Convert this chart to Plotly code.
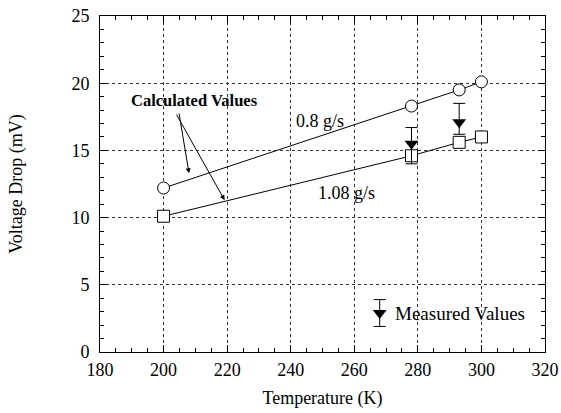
import plotly.graph_objects as go

# Data
temps = [200, 278, 293, 300]
calc_08 = [12.2, 18.3, 19.5, 20.1]
calc_108 = [10.1, 14.6, 15.6, 16.0]
meas_temps = [278, 293]
meas_vals = [15.5, 17.1]
meas_err_plus = [1.2, 1.4]
meas_err_minus = [1.5, 0.9]

FONT = "Liberation Serif"
FS = 18

fig = go.Figure()

fig.add_trace(go.Scatter(
    x=temps, y=calc_08, mode="lines+markers",
    line=dict(color="black", width=1),
    marker=dict(symbol="circle", size=12, color="white", line=dict(color="black", width=1)),
    showlegend=False))
fig.add_trace(go.Scatter(
    x=temps, y=calc_108, mode="lines+markers",
    line=dict(color="black", width=1),
    marker=dict(symbol="square", size=12, color="white", line=dict(color="black", width=1)),
    showlegend=False))
fig.add_trace(go.Scatter(
    x=meas_temps, y=meas_vals, mode="markers",
    marker=dict(symbol="triangle-down", size=12, color="black"),
    error_y=dict(type="data", symmetric=False, array=meas_err_plus, arrayminus=meas_err_minus,
                 color="black", thickness=1, width=6),
    showlegend=False))

# legend symbol
fig.add_trace(go.Scatter(
    x=[268], y=[2.9], mode="markers",
    marker=dict(symbol="triangle-down", size=12, color="black"),
    error_y=dict(type="data", array=[1.0], color="black", thickness=1, width=6),
    showlegend=False))

fig.add_annotation(x=268, y=2.9, xanchor="left", yanchor="middle", xshift=13,
                   text="Measured Values", showarrow=False,
                   font=dict(family=FONT, size=19, color="black"))

fig.add_annotation(x=209.8, y=18.7, text="<b>Calculated Values</b>", showarrow=False,
                   font=dict(family=FONT, size=16.5, color="black"))
fig.add_annotation(x=208.0, y=13.3, ax=204.8, ay=17.86, axref="x", ayref="y",
                   text="", showarrow=True, arrowhead=2, arrowsize=1, arrowwidth=1, arrowcolor="black")
fig.add_annotation(x=219.2, y=11.3, ax=203.8, ay=17.78, axref="x", ayref="y",
                   text="", showarrow=True, arrowhead=2, arrowsize=1, arrowwidth=1, arrowcolor="black")
fig.add_annotation(x=249.3, y=17.2, text="0.8 g/s", showarrow=False,
                   font=dict(family=FONT, size=FS, color="black"))
fig.add_annotation(x=257.7, y=11.8, text="1.08 g/s", showarrow=False,
                   font=dict(family=FONT, size=FS, color="black"))

axis_common = dict(
    showline=True, linecolor="black", linewidth=1, mirror="ticks",
    ticks="inside", ticklen=7, tickcolor="black", tickwidth=1,
    showgrid=True, gridcolor="#333", griddash="dot", gridwidth=1,
    zeroline=False, automargin=False, ticklabeloverflow="allow",
    tickfont=dict(family=FONT, size=FS, color="black"),
)

fig.update_xaxes(range=[180, 320], tick0=180, dtick=20, ticklabelstandoff=1,
                 minor=dict(ticks="inside", dtick=5, ticklen=4, tickcolor="black", showgrid=False),
                 title=dict(text="Temperature (K)", font=dict(family=FONT, size=FS, color="black"), standoff=12),
                 **axis_common)
fig.update_yaxes(range=[0, 25], tick0=0, dtick=5, ticklabelstandoff=6,
                 minor=dict(ticks="inside", dtick=1, ticklen=4, tickcolor="black", showgrid=False),
                 title=dict(text="Voltage Drop (mV)", font=dict(family=FONT, size=FS, color="black"), standoff=44),
                 **axis_common)

fig.update_layout(
    width=561, height=413,
    margin=dict(l=100, r=16, t=16, b=61),
    paper_bgcolor="white", plot_bgcolor="white",
    font=dict(family=FONT, color="black"),
)

fig.write_html("out.html", config={"displayModeBar": False},
               post_script="document.body.style.margin='0';document.body.style.overflow='hidden';")
